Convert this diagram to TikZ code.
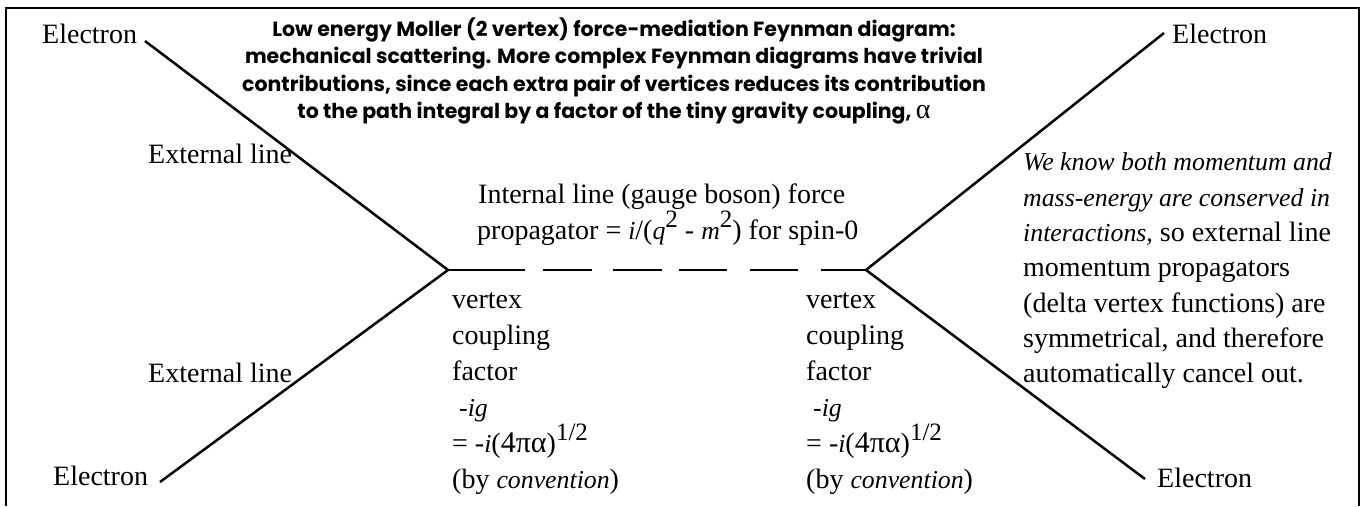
\documentclass[tikz,border=0pt]{standalone}
\usepackage{fontspec}
\setmainfont{Liberation Serif}
\newfontfamily\titlefont{Poppins}
\newcommand{\supr}[1]{\raisebox{0.40em}{\fontsize{25}{25}\selectfont #1}}
\newcommand{\ital}[1]{{\fontsize{25.8}{30}\selectfont\itshape #1}}
\newcommand{\symb}[1]{{\fontsize{30}{30}\selectfont #1}}
\begin{document}
\begin{tikzpicture}[x=1pt,y=-1pt,
  lbl/.style={inner sep=0pt, anchor=base west, font=\fontsize{28}{34}\selectfont},
  ttl/.style={inner sep=0pt, anchor=base, font=\titlefont\bfseries\fontsize{20.5}{26}\selectfont},
  eline/.style={line width=2.5pt},
  frame/.style={line width=2.5pt}]
\useasboundingbox (0,0) rectangle (1364,506);
\draw[frame] (6,506) -- (6,8) -- (1359,8) -- (1359,506);
% title
\node[ttl] (t1) at (614,36) {Low energy Moller (2 vertex) force-mediation Feynman diagram:};
\node[ttl] (t2) at (614,63.5) {mechanical scattering. More complex Feynman diagrams have trivial};
\node[ttl] (t3) at (614,91) {contributions, since each extra pair of vertices reduces its contribution};
\node[ttl] (t4) at (614,118.5) {to the path integral by a factor of the tiny gravity coupling, {\rmfamily\mdseries\fontsize{28}{28}\selectfont α}};
% electrons
\node[lbl] (eTL) at (42,43) {Electron};
\node[lbl] (eBL) at (53,485) {Electron};
\node[lbl] (eTR) at (1172,43) {Electron};
\node[lbl] (eBR) at (1157,487) {Electron};
\node[lbl] (xT) at (148,163) {External line};
\node[lbl] (xB) at (148,382) {External line};
% vertices and line ends
\coordinate (vL) at (448,270);
\coordinate (vR) at (866,270);
\coordinate (pTL) at (145,41);
\coordinate (pBL) at (160,482);
\coordinate (pTR) at (1164,33);
\coordinate (pBR) at (1145,479);
\draw[eline] (pTL) -- (vL) -- (pBL);
\draw[eline] (pTR) -- (vR) -- (pBR);
\draw[eline, dash pattern=on 77pt off 18pt on 49pt off 21pt on 49pt off 17pt on 48pt off 23pt on 48pt off 23pt on 45pt] (vL) -- (vR);
% internal line
\node[lbl] (i1) at (478,203) {Internal line (gauge boson) force};
\node[lbl] (i2) at (477,239) {propagator = \ital{i}/(\ital{q}\supr{2} - \ital{m}\supr{2}) for spin-0};
% left vertex
\node[lbl] (a1) at (452,308) {vertex};
\node[lbl] (a2) at (452,344) {coupling};
\node[lbl] (a3) at (452,380) {factor};
\node[lbl] (a4) at (452,416) {\hspace{0.25em}\ital{-ig}};
\node[lbl] (a5) at (452,452) {= -\ital{i}(\symb{4πα})\supr{1/2}};
\node[lbl] (a6) at (452,488) {(by \ital{convention})};
% right vertex
\node[lbl] (b1) at (806,308) {vertex};
\node[lbl] (b2) at (806,344) {coupling};
\node[lbl] (b3) at (806,380) {factor};
\node[lbl] (b4) at (806,416) {\hspace{0.25em}\ital{-ig}};
\node[lbl] (b5) at (806,452) {= -\ital{i}(\symb{4πα})\supr{1/2}};
\node[lbl] (b6) at (806,488) {(by \ital{convention})};
% right paragraph
\node[lbl] (r1) at (1023,170) {\ital{We know both momentum and}};
\node[lbl] (r2) at (1023,206) {\ital{mass-energy are conserved in}};
\node[lbl] (r3) at (1023,241) {\ital{interactions,} so external line};
\node[lbl] (r4) at (1023,276) {momentum propagators};
\node[lbl] (r5) at (1023,312) {(delta vertex functions) are};
\node[lbl] (r6) at (1023,347) {symmetrical, and therefore};
\node[lbl] (r7) at (1023,382) {automatically cancel out.};
\end{tikzpicture}
\end{document}
